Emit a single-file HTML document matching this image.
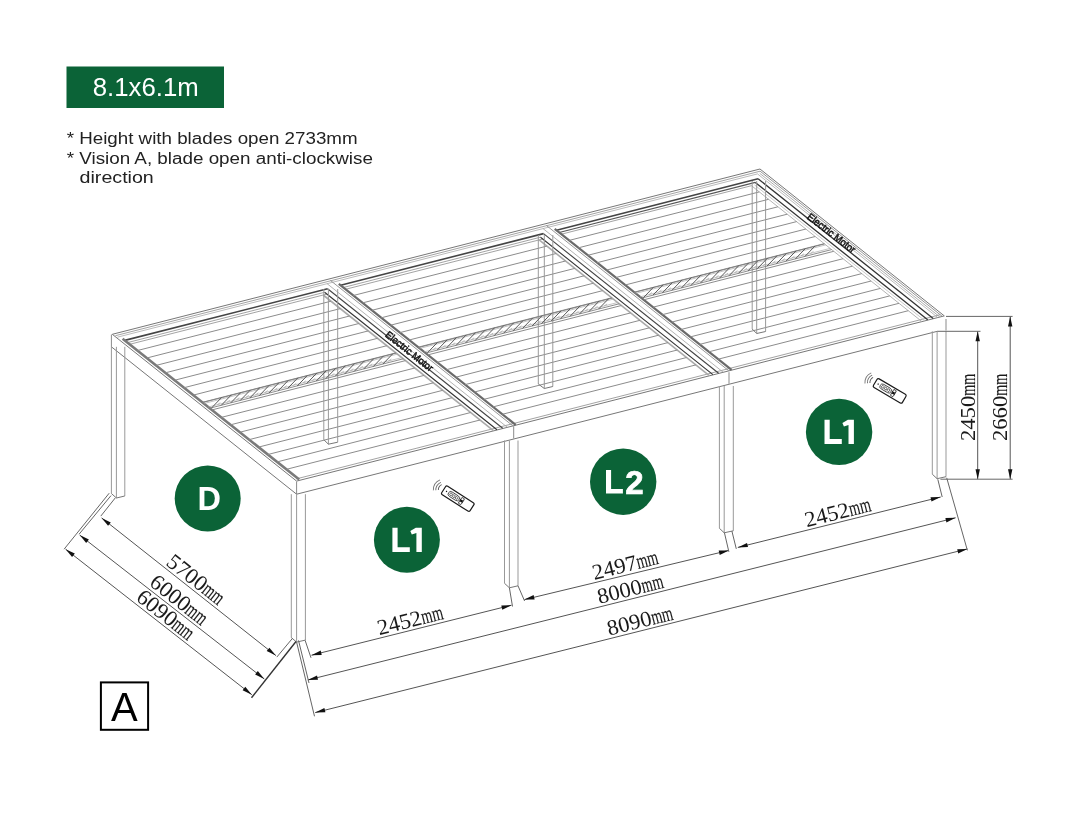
<!DOCTYPE html>
<html><head><meta charset="utf-8"><style>
html,body{margin:0;padding:0;background:#fff;}
svg{display:block;will-change:transform;}
</style></head><body>
<svg width="1080" height="831" viewBox="0 0 1080 831">
<rect width="1080" height="831" fill="#fff"/>
<g stroke-linecap="butt">
<line x1="112.3" y1="334.3" x2="760.0" y2="169.0" stroke="#777" stroke-width="1.0"/>
<line x1="115.4" y1="335.7" x2="760.1" y2="171.2" stroke="#999" stroke-width="0.9"/>
<line x1="296.6" y1="481.1" x2="944.3" y2="315.9" stroke="#777" stroke-width="1.0"/>
<line x1="296.3" y1="478.9" x2="940.2" y2="314.7" stroke="#999" stroke-width="0.9"/>
<line x1="112.3" y1="334.3" x2="296.6" y2="481.1" stroke="#777" stroke-width="1.0"/>
<line x1="760.0" y1="169.0" x2="944.3" y2="315.9" stroke="#777" stroke-width="1.0"/>
<line x1="111.4" y1="334.5" x2="111.4" y2="346.8" stroke="#8a8a8a" stroke-width="1"/>
<line x1="296.6" y1="481.6" x2="296.6" y2="494.2" stroke="#8a8a8a" stroke-width="1"/>
<line x1="946.0" y1="319.0" x2="946.0" y2="330.5" stroke="#8a8a8a" stroke-width="1"/>
<line x1="111.4" y1="346.8" x2="296.6" y2="494.2" stroke="#777" stroke-width="1"/>
<line x1="296.6" y1="494.2" x2="937.3" y2="331.3" stroke="#777" stroke-width="1"/>
<line x1="513.7" y1="426.2" x2="513.7" y2="438.5" stroke="#8a8a8a" stroke-width="1"/>
<line x1="729.0" y1="372.2" x2="729.0" y2="383.8" stroke="#8a8a8a" stroke-width="1"/>
<line x1="124.8" y1="340.4" x2="327.6" y2="288.7" stroke="#444" stroke-width="1.6"/>
<line x1="127.5" y1="342.6" x2="324.6" y2="292.3" stroke="#999" stroke-width="0.9"/>
<line x1="129.7" y1="344.3" x2="326.8" y2="294.1" stroke="#999" stroke-width="0.9"/>
<line x1="340.6" y1="285.3" x2="543.5" y2="233.6" stroke="#444" stroke-width="1.6"/>
<line x1="343.3" y1="287.5" x2="540.5" y2="237.2" stroke="#999" stroke-width="0.9"/>
<line x1="345.5" y1="289.3" x2="542.7" y2="239.0" stroke="#999" stroke-width="0.9"/>
<line x1="556.5" y1="230.3" x2="758.1" y2="178.8" stroke="#444" stroke-width="1.6"/>
<line x1="559.2" y1="232.5" x2="755.3" y2="182.4" stroke="#555" stroke-width="1.1"/>
<line x1="561.4" y1="234.2" x2="751.5" y2="185.7" stroke="#999" stroke-width="0.9"/>
<line x1="117.3" y1="337.2" x2="757.5" y2="173.9" stroke="#aaa" stroke-width="0.8"/>
<line x1="122.6" y1="338.7" x2="299.2" y2="479.5" stroke="#7a7a7a" stroke-width="2.6"/>
<line x1="323.2" y1="295.0" x2="493.4" y2="430.6" stroke="#aaa" stroke-width="1.6"/>
<line x1="324.6" y1="292.3" x2="497.0" y2="429.7" stroke="#333" stroke-width="1.1"/>
<line x1="327.6" y1="288.7" x2="502.7" y2="428.3" stroke="#444" stroke-width="1.1"/>
<line x1="326.9" y1="283.5" x2="507.1" y2="427.1" stroke="#aaa" stroke-width="0.9"/>
<line x1="330.4" y1="280.4" x2="512.7" y2="425.7" stroke="#8a8a8a" stroke-width="0.9"/>
<line x1="338.8" y1="283.9" x2="515.7" y2="424.9" stroke="#6a6a6a" stroke-width="2.2"/>
<line x1="539.1" y1="239.9" x2="709.3" y2="375.6" stroke="#aaa" stroke-width="1.6"/>
<line x1="540.5" y1="237.2" x2="712.9" y2="374.6" stroke="#333" stroke-width="1.1"/>
<line x1="543.5" y1="233.6" x2="718.6" y2="373.2" stroke="#444" stroke-width="1.1"/>
<line x1="542.8" y1="228.4" x2="723.0" y2="372.1" stroke="#aaa" stroke-width="0.9"/>
<line x1="546.3" y1="225.4" x2="728.6" y2="370.6" stroke="#8a8a8a" stroke-width="0.9"/>
<line x1="554.7" y1="228.8" x2="731.6" y2="369.9" stroke="#6a6a6a" stroke-width="2.2"/>
<line x1="751.5" y1="185.7" x2="921.7" y2="321.4" stroke="#aaa" stroke-width="0.9"/>
<line x1="754.5" y1="184.9" x2="924.7" y2="320.6" stroke="#bbb" stroke-width="0.8"/>
<line x1="755.3" y1="182.4" x2="927.7" y2="319.8" stroke="#333" stroke-width="1.3"/>
<line x1="758.1" y1="178.8" x2="933.2" y2="318.4" stroke="#333" stroke-width="1.3"/>
<line x1="757.5" y1="173.9" x2="937.5" y2="317.3" stroke="#aaa" stroke-width="0.8"/>
<line x1="759.7" y1="173.3" x2="939.7" y2="316.8" stroke="#999" stroke-width="0.8"/>
<line x1="760.1" y1="171.2" x2="942.0" y2="316.2" stroke="#8a8a8a" stroke-width="0.9"/>
<line x1="137.5" y1="350.5" x2="331.0" y2="301.2" stroke="#8c8c8c" stroke-width="1.0"/>
<line x1="146.8" y1="358.0" x2="340.3" y2="308.6" stroke="#8c8c8c" stroke-width="1.0"/>
<line x1="156.1" y1="365.4" x2="349.6" y2="316.0" stroke="#8c8c8c" stroke-width="1.0"/>
<line x1="165.4" y1="372.8" x2="358.9" y2="323.5" stroke="#8c8c8c" stroke-width="1.0"/>
<line x1="174.8" y1="380.2" x2="368.3" y2="330.9" stroke="#8c8c8c" stroke-width="1.0"/>
<line x1="184.1" y1="387.7" x2="377.6" y2="338.3" stroke="#8c8c8c" stroke-width="1.0"/>
<line x1="193.4" y1="395.1" x2="386.9" y2="345.7" stroke="#8c8c8c" stroke-width="1.0"/>
<line x1="202.7" y1="402.5" x2="396.2" y2="353.1" stroke="#8c8c8c" stroke-width="1.0"/>
<line x1="212.0" y1="409.9" x2="405.5" y2="360.6" stroke="#8c8c8c" stroke-width="1.0"/>
<line x1="221.3" y1="417.4" x2="414.8" y2="368.0" stroke="#8c8c8c" stroke-width="1.0"/>
<line x1="230.6" y1="424.8" x2="424.1" y2="375.4" stroke="#8c8c8c" stroke-width="1.0"/>
<line x1="240.0" y1="432.2" x2="433.5" y2="382.8" stroke="#8c8c8c" stroke-width="1.0"/>
<line x1="249.3" y1="439.6" x2="442.8" y2="390.3" stroke="#8c8c8c" stroke-width="1.0"/>
<line x1="258.6" y1="447.1" x2="452.1" y2="397.7" stroke="#8c8c8c" stroke-width="1.0"/>
<line x1="267.9" y1="454.5" x2="461.4" y2="405.1" stroke="#8c8c8c" stroke-width="1.0"/>
<line x1="277.2" y1="461.9" x2="470.7" y2="412.5" stroke="#8c8c8c" stroke-width="1.0"/>
<line x1="286.5" y1="469.3" x2="480.0" y2="420.0" stroke="#8c8c8c" stroke-width="1.0"/>
<line x1="353.3" y1="295.5" x2="546.9" y2="246.1" stroke="#8c8c8c" stroke-width="1.0"/>
<line x1="362.6" y1="302.9" x2="556.2" y2="253.5" stroke="#8c8c8c" stroke-width="1.0"/>
<line x1="371.9" y1="310.3" x2="565.5" y2="261.0" stroke="#8c8c8c" stroke-width="1.0"/>
<line x1="381.2" y1="317.8" x2="574.8" y2="268.4" stroke="#8c8c8c" stroke-width="1.0"/>
<line x1="390.6" y1="325.2" x2="584.2" y2="275.8" stroke="#8c8c8c" stroke-width="1.0"/>
<line x1="399.9" y1="332.6" x2="593.5" y2="283.2" stroke="#8c8c8c" stroke-width="1.0"/>
<line x1="409.2" y1="340.0" x2="602.8" y2="290.6" stroke="#8c8c8c" stroke-width="1.0"/>
<line x1="418.5" y1="347.5" x2="612.1" y2="298.1" stroke="#8c8c8c" stroke-width="1.0"/>
<line x1="427.8" y1="354.9" x2="621.4" y2="305.5" stroke="#8c8c8c" stroke-width="1.0"/>
<line x1="437.1" y1="362.3" x2="630.7" y2="312.9" stroke="#8c8c8c" stroke-width="1.0"/>
<line x1="446.4" y1="369.7" x2="640.0" y2="320.3" stroke="#8c8c8c" stroke-width="1.0"/>
<line x1="455.8" y1="377.2" x2="649.4" y2="327.8" stroke="#8c8c8c" stroke-width="1.0"/>
<line x1="465.1" y1="384.6" x2="658.7" y2="335.2" stroke="#8c8c8c" stroke-width="1.0"/>
<line x1="474.4" y1="392.0" x2="668.0" y2="342.6" stroke="#8c8c8c" stroke-width="1.0"/>
<line x1="483.7" y1="399.4" x2="677.3" y2="350.0" stroke="#8c8c8c" stroke-width="1.0"/>
<line x1="493.0" y1="406.9" x2="686.6" y2="357.5" stroke="#8c8c8c" stroke-width="1.0"/>
<line x1="502.3" y1="414.3" x2="695.9" y2="364.9" stroke="#8c8c8c" stroke-width="1.0"/>
<line x1="569.2" y1="240.4" x2="759.3" y2="191.9" stroke="#8c8c8c" stroke-width="1.0"/>
<line x1="578.5" y1="247.8" x2="768.6" y2="199.3" stroke="#8c8c8c" stroke-width="1.0"/>
<line x1="587.8" y1="255.3" x2="777.9" y2="206.8" stroke="#8c8c8c" stroke-width="1.0"/>
<line x1="597.1" y1="262.7" x2="787.2" y2="214.2" stroke="#8c8c8c" stroke-width="1.0"/>
<line x1="606.5" y1="270.1" x2="796.6" y2="221.6" stroke="#8c8c8c" stroke-width="1.0"/>
<line x1="615.8" y1="277.5" x2="805.9" y2="229.0" stroke="#8c8c8c" stroke-width="1.0"/>
<line x1="625.1" y1="285.0" x2="815.2" y2="236.5" stroke="#8c8c8c" stroke-width="1.0"/>
<line x1="634.4" y1="292.4" x2="824.5" y2="243.9" stroke="#8c8c8c" stroke-width="1.0"/>
<line x1="643.7" y1="299.8" x2="833.8" y2="251.3" stroke="#8c8c8c" stroke-width="1.0"/>
<line x1="653.0" y1="307.2" x2="843.1" y2="258.7" stroke="#8c8c8c" stroke-width="1.0"/>
<line x1="662.3" y1="314.7" x2="852.4" y2="266.2" stroke="#8c8c8c" stroke-width="1.0"/>
<line x1="671.7" y1="322.1" x2="861.8" y2="273.6" stroke="#8c8c8c" stroke-width="1.0"/>
<line x1="681.0" y1="329.5" x2="871.1" y2="281.0" stroke="#8c8c8c" stroke-width="1.0"/>
<line x1="690.3" y1="336.9" x2="880.4" y2="288.4" stroke="#8c8c8c" stroke-width="1.0"/>
<line x1="699.6" y1="344.4" x2="889.7" y2="295.9" stroke="#8c8c8c" stroke-width="1.0"/>
<line x1="708.9" y1="351.8" x2="899.0" y2="303.3" stroke="#8c8c8c" stroke-width="1.0"/>
<line x1="718.2" y1="359.2" x2="908.3" y2="310.7" stroke="#8c8c8c" stroke-width="1.0"/>
<line x1="111.4" y1="346.8" x2="111.4" y2="493.5" stroke="#999" stroke-width="1"/>
<line x1="116.4" y1="346.8" x2="116.4" y2="498.0" stroke="#999" stroke-width="1"/>
<line x1="124.8" y1="346.8" x2="124.8" y2="496.0" stroke="#999" stroke-width="1"/>
<line x1="111.4" y1="493.5" x2="116.4" y2="498.0" stroke="#777" stroke-width="1"/>
<line x1="116.4" y1="498.0" x2="124.8" y2="496.0" stroke="#777" stroke-width="1"/>
<line x1="291.3" y1="494.2" x2="291.3" y2="637.6" stroke="#999" stroke-width="1"/>
<line x1="296.6" y1="494.2" x2="296.6" y2="642.1" stroke="#999" stroke-width="1"/>
<line x1="305.4" y1="494.2" x2="305.4" y2="640.1" stroke="#999" stroke-width="1"/>
<line x1="291.3" y1="637.6" x2="296.6" y2="642.1" stroke="#777" stroke-width="1"/>
<line x1="296.6" y1="642.1" x2="305.4" y2="640.1" stroke="#777" stroke-width="1"/>
<line x1="504.5" y1="440.5" x2="504.5" y2="583.3" stroke="#999" stroke-width="1"/>
<line x1="509.4" y1="440.5" x2="509.4" y2="587.8" stroke="#999" stroke-width="1"/>
<line x1="518.0" y1="440.5" x2="518.0" y2="585.8" stroke="#999" stroke-width="1"/>
<line x1="504.5" y1="583.3" x2="509.4" y2="587.8" stroke="#777" stroke-width="1"/>
<line x1="509.4" y1="587.8" x2="518.0" y2="585.8" stroke="#777" stroke-width="1"/>
<line x1="719.4" y1="386.0" x2="719.4" y2="528.3" stroke="#999" stroke-width="1"/>
<line x1="724.2" y1="386.0" x2="724.2" y2="532.8" stroke="#999" stroke-width="1"/>
<line x1="733.3" y1="386.0" x2="733.3" y2="530.8" stroke="#999" stroke-width="1"/>
<line x1="719.4" y1="528.3" x2="724.2" y2="532.8" stroke="#777" stroke-width="1"/>
<line x1="724.2" y1="532.8" x2="733.3" y2="530.8" stroke="#777" stroke-width="1"/>
<line x1="932.3" y1="331.3" x2="932.3" y2="474.2" stroke="#999" stroke-width="1"/>
<line x1="937.1" y1="331.3" x2="937.1" y2="478.7" stroke="#999" stroke-width="1"/>
<line x1="946.0" y1="331.3" x2="946.0" y2="476.7" stroke="#999" stroke-width="1"/>
<line x1="932.3" y1="474.2" x2="937.1" y2="478.7" stroke="#777" stroke-width="1"/>
<line x1="937.1" y1="478.7" x2="946.0" y2="476.7" stroke="#777" stroke-width="1"/>
<line x1="323.8" y1="289.0" x2="323.8" y2="439.7" stroke="#999" stroke-width="1"/>
<line x1="328.4" y1="289.0" x2="328.4" y2="444.2" stroke="#999" stroke-width="1"/>
<line x1="337.7" y1="289.0" x2="337.7" y2="442.2" stroke="#999" stroke-width="1"/>
<line x1="323.8" y1="439.7" x2="328.4" y2="444.2" stroke="#777" stroke-width="1"/>
<line x1="328.4" y1="444.2" x2="337.7" y2="442.2" stroke="#777" stroke-width="1"/>
<line x1="538.3" y1="235.0" x2="538.3" y2="384.0" stroke="#999" stroke-width="1"/>
<line x1="544.3" y1="235.0" x2="544.3" y2="388.5" stroke="#999" stroke-width="1"/>
<line x1="552.8" y1="235.0" x2="552.8" y2="386.5" stroke="#999" stroke-width="1"/>
<line x1="538.3" y1="384.0" x2="544.3" y2="388.5" stroke="#777" stroke-width="1"/>
<line x1="544.3" y1="388.5" x2="552.8" y2="386.5" stroke="#777" stroke-width="1"/>
<line x1="752.2" y1="181.0" x2="752.2" y2="329.0" stroke="#999" stroke-width="1"/>
<line x1="756.7" y1="181.0" x2="756.7" y2="333.5" stroke="#999" stroke-width="1"/>
<line x1="765.6" y1="181.0" x2="765.6" y2="331.5" stroke="#999" stroke-width="1"/>
<line x1="752.2" y1="329.0" x2="756.7" y2="333.5" stroke="#777" stroke-width="1"/>
<line x1="756.7" y1="333.5" x2="765.6" y2="331.5" stroke="#777" stroke-width="1"/>
<line x1="202.4" y1="402.3" x2="395.9" y2="352.9" stroke="#808080" stroke-width="0.9"/>
<line x1="203.9" y1="403.5" x2="397.4" y2="354.1" stroke="#aaaaaa" stroke-width="0.7"/>
<line x1="209.8" y1="408.2" x2="403.3" y2="358.8" stroke="#808080" stroke-width="0.9"/>
<line x1="208.3" y1="407.0" x2="401.8" y2="357.6" stroke="#aaaaaa" stroke-width="0.7"/>
<line x1="211.8" y1="407.7" x2="221.8" y2="397.3" stroke="#5a5a5a" stroke-width="1.0"/>
<line x1="217.3" y1="404.7" x2="220.3" y2="402.7" stroke="#aaa" stroke-width="0.8"/>
<line x1="221.3" y1="405.3" x2="231.3" y2="394.9" stroke="#5a5a5a" stroke-width="1.0"/>
<line x1="226.8" y1="402.3" x2="229.8" y2="400.3" stroke="#aaa" stroke-width="0.8"/>
<line x1="230.8" y1="402.8" x2="240.8" y2="392.5" stroke="#5a5a5a" stroke-width="1.0"/>
<line x1="236.3" y1="399.8" x2="239.3" y2="397.8" stroke="#aaa" stroke-width="0.8"/>
<line x1="240.3" y1="400.4" x2="250.3" y2="390.1" stroke="#5a5a5a" stroke-width="1.0"/>
<line x1="245.8" y1="397.4" x2="248.8" y2="395.4" stroke="#aaa" stroke-width="0.8"/>
<line x1="249.8" y1="398.0" x2="259.8" y2="387.6" stroke="#5a5a5a" stroke-width="1.0"/>
<line x1="255.3" y1="395.0" x2="258.3" y2="393.0" stroke="#aaa" stroke-width="0.8"/>
<line x1="259.3" y1="395.6" x2="269.3" y2="385.2" stroke="#5a5a5a" stroke-width="1.0"/>
<line x1="264.8" y1="392.6" x2="267.8" y2="390.6" stroke="#aaa" stroke-width="0.8"/>
<line x1="268.8" y1="393.1" x2="278.8" y2="382.8" stroke="#5a5a5a" stroke-width="1.0"/>
<line x1="274.3" y1="390.1" x2="277.3" y2="388.1" stroke="#aaa" stroke-width="0.8"/>
<line x1="278.3" y1="390.7" x2="288.3" y2="380.4" stroke="#5a5a5a" stroke-width="1.0"/>
<line x1="283.8" y1="387.7" x2="286.8" y2="385.7" stroke="#aaa" stroke-width="0.8"/>
<line x1="287.8" y1="388.3" x2="297.8" y2="377.9" stroke="#5a5a5a" stroke-width="1.0"/>
<line x1="293.3" y1="385.3" x2="296.3" y2="383.3" stroke="#aaa" stroke-width="0.8"/>
<line x1="297.3" y1="385.9" x2="307.3" y2="375.5" stroke="#5a5a5a" stroke-width="1.0"/>
<line x1="302.8" y1="382.9" x2="305.8" y2="380.9" stroke="#aaa" stroke-width="0.8"/>
<line x1="306.8" y1="383.4" x2="316.8" y2="373.1" stroke="#5a5a5a" stroke-width="1.0"/>
<line x1="312.3" y1="380.4" x2="315.3" y2="378.4" stroke="#aaa" stroke-width="0.8"/>
<line x1="316.3" y1="381.0" x2="326.3" y2="370.7" stroke="#5a5a5a" stroke-width="1.0"/>
<line x1="321.8" y1="378.0" x2="324.8" y2="376.0" stroke="#aaa" stroke-width="0.8"/>
<line x1="325.8" y1="378.6" x2="335.8" y2="368.3" stroke="#5a5a5a" stroke-width="1.0"/>
<line x1="331.3" y1="375.6" x2="334.3" y2="373.6" stroke="#aaa" stroke-width="0.8"/>
<line x1="335.3" y1="376.2" x2="345.3" y2="365.8" stroke="#5a5a5a" stroke-width="1.0"/>
<line x1="340.8" y1="373.2" x2="343.8" y2="371.2" stroke="#aaa" stroke-width="0.8"/>
<line x1="344.8" y1="373.8" x2="354.8" y2="363.4" stroke="#5a5a5a" stroke-width="1.0"/>
<line x1="350.3" y1="370.8" x2="353.3" y2="368.8" stroke="#aaa" stroke-width="0.8"/>
<line x1="354.3" y1="371.3" x2="364.3" y2="361.0" stroke="#5a5a5a" stroke-width="1.0"/>
<line x1="359.8" y1="368.3" x2="362.8" y2="366.3" stroke="#aaa" stroke-width="0.8"/>
<line x1="363.8" y1="368.9" x2="373.8" y2="358.6" stroke="#5a5a5a" stroke-width="1.0"/>
<line x1="369.3" y1="365.9" x2="372.3" y2="363.9" stroke="#aaa" stroke-width="0.8"/>
<line x1="373.3" y1="366.5" x2="383.3" y2="356.1" stroke="#5a5a5a" stroke-width="1.0"/>
<line x1="378.8" y1="363.5" x2="381.8" y2="361.5" stroke="#aaa" stroke-width="0.8"/>
<line x1="382.8" y1="364.1" x2="392.8" y2="353.7" stroke="#5a5a5a" stroke-width="1.0"/>
<line x1="388.3" y1="361.1" x2="391.3" y2="359.1" stroke="#aaa" stroke-width="0.8"/>
<line x1="418.2" y1="347.2" x2="611.8" y2="297.8" stroke="#808080" stroke-width="0.9"/>
<line x1="419.7" y1="348.4" x2="613.3" y2="299.1" stroke="#aaaaaa" stroke-width="0.7"/>
<line x1="425.6" y1="353.1" x2="619.2" y2="303.8" stroke="#808080" stroke-width="0.9"/>
<line x1="424.1" y1="351.9" x2="617.7" y2="302.5" stroke="#aaaaaa" stroke-width="0.7"/>
<line x1="427.6" y1="352.6" x2="437.6" y2="342.3" stroke="#5a5a5a" stroke-width="1.0"/>
<line x1="433.1" y1="349.6" x2="436.1" y2="347.6" stroke="#aaa" stroke-width="0.8"/>
<line x1="437.1" y1="350.2" x2="447.1" y2="339.9" stroke="#5a5a5a" stroke-width="1.0"/>
<line x1="442.6" y1="347.2" x2="445.6" y2="345.2" stroke="#aaa" stroke-width="0.8"/>
<line x1="446.6" y1="347.8" x2="456.6" y2="337.4" stroke="#5a5a5a" stroke-width="1.0"/>
<line x1="452.1" y1="344.8" x2="455.1" y2="342.8" stroke="#aaa" stroke-width="0.8"/>
<line x1="456.1" y1="345.4" x2="466.1" y2="335.0" stroke="#5a5a5a" stroke-width="1.0"/>
<line x1="461.6" y1="342.4" x2="464.6" y2="340.4" stroke="#aaa" stroke-width="0.8"/>
<line x1="465.6" y1="342.9" x2="475.6" y2="332.6" stroke="#5a5a5a" stroke-width="1.0"/>
<line x1="471.1" y1="339.9" x2="474.1" y2="337.9" stroke="#aaa" stroke-width="0.8"/>
<line x1="475.1" y1="340.5" x2="485.1" y2="330.2" stroke="#5a5a5a" stroke-width="1.0"/>
<line x1="480.6" y1="337.5" x2="483.6" y2="335.5" stroke="#aaa" stroke-width="0.8"/>
<line x1="484.6" y1="338.1" x2="494.6" y2="327.7" stroke="#5a5a5a" stroke-width="1.0"/>
<line x1="490.1" y1="335.1" x2="493.1" y2="333.1" stroke="#aaa" stroke-width="0.8"/>
<line x1="494.1" y1="335.7" x2="504.1" y2="325.3" stroke="#5a5a5a" stroke-width="1.0"/>
<line x1="499.6" y1="332.7" x2="502.6" y2="330.7" stroke="#aaa" stroke-width="0.8"/>
<line x1="503.6" y1="333.2" x2="513.6" y2="322.9" stroke="#5a5a5a" stroke-width="1.0"/>
<line x1="509.1" y1="330.2" x2="512.1" y2="328.2" stroke="#aaa" stroke-width="0.8"/>
<line x1="513.1" y1="330.8" x2="523.1" y2="320.5" stroke="#5a5a5a" stroke-width="1.0"/>
<line x1="518.6" y1="327.8" x2="521.6" y2="325.8" stroke="#aaa" stroke-width="0.8"/>
<line x1="522.6" y1="328.4" x2="532.6" y2="318.0" stroke="#5a5a5a" stroke-width="1.0"/>
<line x1="528.1" y1="325.4" x2="531.1" y2="323.4" stroke="#aaa" stroke-width="0.8"/>
<line x1="532.1" y1="326.0" x2="542.1" y2="315.6" stroke="#5a5a5a" stroke-width="1.0"/>
<line x1="537.6" y1="323.0" x2="540.6" y2="321.0" stroke="#aaa" stroke-width="0.8"/>
<line x1="541.6" y1="323.6" x2="551.6" y2="313.2" stroke="#5a5a5a" stroke-width="1.0"/>
<line x1="547.1" y1="320.5" x2="550.1" y2="318.5" stroke="#aaa" stroke-width="0.8"/>
<line x1="551.1" y1="321.1" x2="561.1" y2="310.8" stroke="#5a5a5a" stroke-width="1.0"/>
<line x1="556.6" y1="318.1" x2="559.6" y2="316.1" stroke="#aaa" stroke-width="0.8"/>
<line x1="560.6" y1="318.7" x2="570.6" y2="308.4" stroke="#5a5a5a" stroke-width="1.0"/>
<line x1="566.1" y1="315.7" x2="569.1" y2="313.7" stroke="#aaa" stroke-width="0.8"/>
<line x1="570.1" y1="316.3" x2="580.1" y2="305.9" stroke="#5a5a5a" stroke-width="1.0"/>
<line x1="575.6" y1="313.3" x2="578.6" y2="311.3" stroke="#aaa" stroke-width="0.8"/>
<line x1="579.6" y1="313.9" x2="589.6" y2="303.5" stroke="#5a5a5a" stroke-width="1.0"/>
<line x1="585.1" y1="310.9" x2="588.1" y2="308.9" stroke="#aaa" stroke-width="0.8"/>
<line x1="589.1" y1="311.4" x2="599.1" y2="301.1" stroke="#5a5a5a" stroke-width="1.0"/>
<line x1="594.6" y1="308.4" x2="597.6" y2="306.4" stroke="#aaa" stroke-width="0.8"/>
<line x1="598.6" y1="309.0" x2="608.6" y2="298.7" stroke="#5a5a5a" stroke-width="1.0"/>
<line x1="604.1" y1="306.0" x2="607.1" y2="304.0" stroke="#aaa" stroke-width="0.8"/>
<line x1="634.1" y1="292.2" x2="824.2" y2="243.7" stroke="#808080" stroke-width="0.9"/>
<line x1="635.6" y1="293.4" x2="825.7" y2="244.9" stroke="#aaaaaa" stroke-width="0.7"/>
<line x1="641.5" y1="298.1" x2="831.6" y2="249.6" stroke="#808080" stroke-width="0.9"/>
<line x1="640.0" y1="296.9" x2="830.1" y2="248.4" stroke="#aaaaaa" stroke-width="0.7"/>
<line x1="643.5" y1="297.6" x2="653.5" y2="287.2" stroke="#5a5a5a" stroke-width="1.0"/>
<line x1="649.0" y1="294.6" x2="652.0" y2="292.6" stroke="#aaa" stroke-width="0.8"/>
<line x1="653.0" y1="295.1" x2="663.0" y2="284.8" stroke="#5a5a5a" stroke-width="1.0"/>
<line x1="658.5" y1="292.1" x2="661.5" y2="290.1" stroke="#aaa" stroke-width="0.8"/>
<line x1="662.5" y1="292.7" x2="672.5" y2="282.4" stroke="#5a5a5a" stroke-width="1.0"/>
<line x1="668.0" y1="289.7" x2="671.0" y2="287.7" stroke="#aaa" stroke-width="0.8"/>
<line x1="672.0" y1="290.3" x2="682.0" y2="279.9" stroke="#5a5a5a" stroke-width="1.0"/>
<line x1="677.5" y1="287.3" x2="680.5" y2="285.3" stroke="#aaa" stroke-width="0.8"/>
<line x1="681.5" y1="287.9" x2="691.5" y2="277.5" stroke="#5a5a5a" stroke-width="1.0"/>
<line x1="687.0" y1="284.9" x2="690.0" y2="282.9" stroke="#aaa" stroke-width="0.8"/>
<line x1="691.0" y1="285.4" x2="701.0" y2="275.1" stroke="#5a5a5a" stroke-width="1.0"/>
<line x1="696.5" y1="282.4" x2="699.5" y2="280.4" stroke="#aaa" stroke-width="0.8"/>
<line x1="700.5" y1="283.0" x2="710.5" y2="272.7" stroke="#5a5a5a" stroke-width="1.0"/>
<line x1="706.0" y1="280.0" x2="709.0" y2="278.0" stroke="#aaa" stroke-width="0.8"/>
<line x1="710.0" y1="280.6" x2="720.0" y2="270.2" stroke="#5a5a5a" stroke-width="1.0"/>
<line x1="715.5" y1="277.6" x2="718.5" y2="275.6" stroke="#aaa" stroke-width="0.8"/>
<line x1="719.5" y1="278.2" x2="729.5" y2="267.8" stroke="#5a5a5a" stroke-width="1.0"/>
<line x1="725.0" y1="275.2" x2="728.0" y2="273.2" stroke="#aaa" stroke-width="0.8"/>
<line x1="729.0" y1="275.7" x2="739.0" y2="265.4" stroke="#5a5a5a" stroke-width="1.0"/>
<line x1="734.5" y1="272.7" x2="737.5" y2="270.7" stroke="#aaa" stroke-width="0.8"/>
<line x1="738.5" y1="273.3" x2="748.5" y2="263.0" stroke="#5a5a5a" stroke-width="1.0"/>
<line x1="744.0" y1="270.3" x2="747.0" y2="268.3" stroke="#aaa" stroke-width="0.8"/>
<line x1="748.0" y1="270.9" x2="758.0" y2="260.5" stroke="#5a5a5a" stroke-width="1.0"/>
<line x1="753.5" y1="267.9" x2="756.5" y2="265.9" stroke="#aaa" stroke-width="0.8"/>
<line x1="757.5" y1="268.5" x2="767.5" y2="258.1" stroke="#5a5a5a" stroke-width="1.0"/>
<line x1="763.0" y1="265.5" x2="766.0" y2="263.5" stroke="#aaa" stroke-width="0.8"/>
<line x1="767.0" y1="266.1" x2="777.0" y2="255.7" stroke="#5a5a5a" stroke-width="1.0"/>
<line x1="772.5" y1="263.0" x2="775.5" y2="261.0" stroke="#aaa" stroke-width="0.8"/>
<line x1="776.5" y1="263.6" x2="786.5" y2="253.3" stroke="#5a5a5a" stroke-width="1.0"/>
<line x1="782.0" y1="260.6" x2="785.0" y2="258.6" stroke="#aaa" stroke-width="0.8"/>
<line x1="786.0" y1="261.2" x2="796.0" y2="250.9" stroke="#5a5a5a" stroke-width="1.0"/>
<line x1="791.5" y1="258.2" x2="794.5" y2="256.2" stroke="#aaa" stroke-width="0.8"/>
<line x1="795.5" y1="258.8" x2="805.5" y2="248.4" stroke="#5a5a5a" stroke-width="1.0"/>
<line x1="801.0" y1="255.8" x2="804.0" y2="253.8" stroke="#aaa" stroke-width="0.8"/>
<line x1="805.0" y1="256.4" x2="815.0" y2="246.0" stroke="#5a5a5a" stroke-width="1.0"/>
<line x1="810.5" y1="253.4" x2="813.5" y2="251.4" stroke="#aaa" stroke-width="0.8"/>
<line x1="311.5" y1="655.2" x2="511.5" y2="605.2" stroke="#555" stroke-width="1.0"/>
<polygon points="311.5,655.2 320.7,650.6 321.7,654.9" fill="#111"/>
<polygon points="511.5,605.2 502.3,609.8 501.3,605.5" fill="#111"/>
<line x1="524.4" y1="599.6" x2="728.9" y2="550.4" stroke="#555" stroke-width="1.0"/>
<polygon points="524.4,599.6 533.6,595.1 534.6,599.4" fill="#111"/>
<polygon points="728.9,550.4 719.7,554.9 718.7,550.6" fill="#111"/>
<line x1="737.8" y1="547.4" x2="940.7" y2="497.0" stroke="#555" stroke-width="1.0"/>
<polygon points="737.8,547.4 747.0,542.9 748.0,547.1" fill="#111"/>
<polygon points="940.7,497.0 931.5,501.5 930.5,497.3" fill="#111"/>
<line x1="307.8" y1="680.0" x2="955.6" y2="517.8" stroke="#555" stroke-width="1.0"/>
<polygon points="307.8,680.0 317.0,675.4 318.0,679.7" fill="#111"/>
<polygon points="955.6,517.8 946.4,522.4 945.4,518.1" fill="#111"/>
<line x1="315.2" y1="712.6" x2="967.4" y2="548.9" stroke="#555" stroke-width="1.0"/>
<polygon points="315.2,712.6 324.4,708.0 325.4,712.3" fill="#111"/>
<polygon points="967.4,548.9 958.2,553.5 957.2,549.2" fill="#111"/>
<line x1="101.6" y1="517.9" x2="275.9" y2="655.6" stroke="#555" stroke-width="1.0"/>
<polygon points="101.6,517.9 110.8,522.4 108.1,525.8" fill="#111"/>
<polygon points="275.9,655.6 266.7,651.1 269.4,647.7" fill="#111"/>
<line x1="79.7" y1="535.1" x2="264.3" y2="679.0" stroke="#555" stroke-width="1.0"/>
<polygon points="79.7,535.1 88.9,539.5 86.2,543.0" fill="#111"/>
<polygon points="264.3,679.0 255.1,674.6 257.8,671.1" fill="#111"/>
<line x1="65.6" y1="549.2" x2="251.8" y2="694.7" stroke="#555" stroke-width="1.0"/>
<polygon points="65.6,549.2 74.8,553.6 72.1,557.1" fill="#111"/>
<polygon points="251.8,694.7 242.6,690.3 245.3,686.8" fill="#111"/>
<line x1="977.7" y1="331.3" x2="977.7" y2="479.2" stroke="#555" stroke-width="1.0"/>
<polygon points="977.7,331.3 979.9,341.3 975.5,341.3" fill="#111"/>
<polygon points="977.7,479.2 975.5,469.2 979.9,469.2" fill="#111"/>
<line x1="1010.2" y1="316.4" x2="1010.2" y2="479.2" stroke="#555" stroke-width="1.0"/>
<polygon points="1010.2,316.4 1012.4,326.4 1008.0,326.4" fill="#111"/>
<polygon points="1010.2,479.2 1008.0,469.2 1012.4,469.2" fill="#111"/>
<line x1="946.0" y1="316.4" x2="1012.6" y2="316.4" stroke="#666" stroke-width="1"/>
<line x1="937.3" y1="331.3" x2="980.5" y2="331.3" stroke="#666" stroke-width="1"/>
<line x1="940.4" y1="479.2" x2="1012.6" y2="479.2" stroke="#666" stroke-width="1"/>
<line x1="109.2" y1="493.2" x2="64.1" y2="549.2" stroke="#666" stroke-width="1"/>
<line x1="111.0" y1="495.6" x2="79.1" y2="534.2" stroke="#666" stroke-width="1"/>
<line x1="115.2" y1="498.0" x2="100.8" y2="516.1" stroke="#666" stroke-width="1"/>
<line x1="296.0" y1="641.5" x2="251.5" y2="697.8" stroke="#333" stroke-width="1.4"/>
<line x1="292.5" y1="638.3" x2="276.8" y2="657.1" stroke="#666" stroke-width="1"/>
<line x1="296.6" y1="642.1" x2="314.5" y2="716.3" stroke="#666" stroke-width="1"/>
<line x1="298.5" y1="640.4" x2="309.0" y2="683.0" stroke="#666" stroke-width="1"/>
<line x1="305.1" y1="640.3" x2="311.0" y2="657.8" stroke="#666" stroke-width="1"/>
<line x1="509.4" y1="587.8" x2="512.5" y2="606.5" stroke="#666" stroke-width="1"/>
<line x1="518.0" y1="585.8" x2="524.6" y2="601.0" stroke="#666" stroke-width="1"/>
<line x1="724.4" y1="532.6" x2="728.9" y2="551.9" stroke="#666" stroke-width="1"/>
<line x1="731.9" y1="531.1" x2="736.3" y2="548.9" stroke="#666" stroke-width="1"/>
<line x1="937.8" y1="479.3" x2="942.2" y2="497.0" stroke="#666" stroke-width="1"/>
<line x1="946.7" y1="477.8" x2="967.4" y2="550.4" stroke="#666" stroke-width="1"/>
<g transform="translate(411.5,630.2) rotate(-14.04)"><text x="-32.6" y="-3.0" font-family="Liberation Serif, serif" font-size="22" fill="#1a1a1a" textLength="45.3" lengthAdjust="spacingAndGlyphs">2452</text><text transform="translate(12.7,-3.0) scale(0.64,1)" x="0" y="0" font-family="Liberation Serif, serif" font-size="22" fill="#1a1a1a" stroke="#1a1a1a" stroke-width="0.15">mm</text></g>
<g transform="translate(626.6,575.0) rotate(-14.04)"><text x="-32.6" y="-3.0" font-family="Liberation Serif, serif" font-size="22" fill="#1a1a1a" textLength="45.3" lengthAdjust="spacingAndGlyphs">2497</text><text transform="translate(12.7,-3.0) scale(0.64,1)" x="0" y="0" font-family="Liberation Serif, serif" font-size="22" fill="#1a1a1a" stroke="#1a1a1a" stroke-width="0.15">mm</text></g>
<g transform="translate(839.2,522.2) rotate(-14.04)"><text x="-32.6" y="-3.0" font-family="Liberation Serif, serif" font-size="22" fill="#1a1a1a" textLength="45.3" lengthAdjust="spacingAndGlyphs">2452</text><text transform="translate(12.7,-3.0) scale(0.64,1)" x="0" y="0" font-family="Liberation Serif, serif" font-size="22" fill="#1a1a1a" stroke="#1a1a1a" stroke-width="0.15">mm</text></g>
<g transform="translate(631.7,598.9) rotate(-14.04)"><text x="-32.6" y="-3.0" font-family="Liberation Serif, serif" font-size="22" fill="#1a1a1a" textLength="45.3" lengthAdjust="spacingAndGlyphs">8000</text><text transform="translate(12.7,-3.0) scale(0.64,1)" x="0" y="0" font-family="Liberation Serif, serif" font-size="22" fill="#1a1a1a" stroke="#1a1a1a" stroke-width="0.15">mm</text></g>
<g transform="translate(641.3,630.8) rotate(-14.04)"><text x="-32.6" y="-3.0" font-family="Liberation Serif, serif" font-size="22" fill="#1a1a1a" textLength="45.3" lengthAdjust="spacingAndGlyphs">8090</text><text transform="translate(12.7,-3.0) scale(0.64,1)" x="0" y="0" font-family="Liberation Serif, serif" font-size="22" fill="#1a1a1a" stroke="#1a1a1a" stroke-width="0.15">mm</text></g>
<g transform="translate(188.8,586.8) rotate(38.31)"><text x="-32.6" y="-3.0" font-family="Liberation Serif, serif" font-size="22" fill="#1a1a1a" textLength="45.3" lengthAdjust="spacingAndGlyphs">5700</text><text transform="translate(12.7,-3.0) scale(0.64,1)" x="0" y="0" font-family="Liberation Serif, serif" font-size="22" fill="#1a1a1a" stroke="#1a1a1a" stroke-width="0.15">mm</text></g>
<g transform="translate(172.0,607.0) rotate(38.31)"><text x="-32.6" y="-3.0" font-family="Liberation Serif, serif" font-size="22" fill="#1a1a1a" textLength="45.3" lengthAdjust="spacingAndGlyphs">6000</text><text transform="translate(12.7,-3.0) scale(0.64,1)" x="0" y="0" font-family="Liberation Serif, serif" font-size="22" fill="#1a1a1a" stroke="#1a1a1a" stroke-width="0.15">mm</text></g>
<g transform="translate(158.7,622.0) rotate(38.31)"><text x="-32.6" y="-3.0" font-family="Liberation Serif, serif" font-size="22" fill="#1a1a1a" textLength="45.3" lengthAdjust="spacingAndGlyphs">6090</text><text transform="translate(12.7,-3.0) scale(0.64,1)" x="0" y="0" font-family="Liberation Serif, serif" font-size="22" fill="#1a1a1a" stroke="#1a1a1a" stroke-width="0.15">mm</text></g>
<g transform="translate(977.7,406.5) rotate(-90.00)"><text x="-34.6" y="-3.0" font-family="Liberation Serif, serif" font-size="22" fill="#1a1a1a" textLength="45.3" lengthAdjust="spacingAndGlyphs">2450</text><text transform="translate(10.7,-3.0) scale(0.64,1)" x="0" y="0" font-family="Liberation Serif, serif" font-size="22" fill="#1a1a1a" stroke="#1a1a1a" stroke-width="0.15">mm</text></g>
<g transform="translate(1010.2,406.5) rotate(-90.00)"><text x="-34.6" y="-3.0" font-family="Liberation Serif, serif" font-size="22" fill="#1a1a1a" textLength="45.3" lengthAdjust="spacingAndGlyphs">2660</text><text transform="translate(10.7,-3.0) scale(0.64,1)" x="0" y="0" font-family="Liberation Serif, serif" font-size="22" fill="#1a1a1a" stroke="#1a1a1a" stroke-width="0.15">mm</text></g>
<text transform="translate(409.5,351.2) rotate(38.40)" x="0" y="3.6" font-family="Liberation Sans, sans-serif" font-size="10.2" fill="#111" stroke="#111" stroke-width="0.45" text-anchor="middle" textLength="58" lengthAdjust="spacingAndGlyphs">Electric Motor</text>
<text transform="translate(831.5,233.0) rotate(37.50)" x="0" y="3.6" font-family="Liberation Sans, sans-serif" font-size="10.2" fill="#111" stroke="#111" stroke-width="0.45" text-anchor="middle" textLength="58" lengthAdjust="spacingAndGlyphs">Electric Motor</text>
<g transform="translate(457.8,498.7) rotate(32.7)" fill="none" stroke="#1a1a1a" stroke-width="1.2"><rect x="-16.8" y="-5" width="33.6" height="10" rx="1.6"/><rect x="-11" y="-2.6" width="12.6" height="5.2" rx="2.6" stroke-width="0.8" stroke="#333"/><circle cx="-8" cy="0" r="1.3" stroke-width="0.6"/><circle cx="-4.7" cy="0" r="1.3" stroke-width="0.6"/><circle cx="-1.4" cy="0" r="1.3" stroke-width="0.6"/><rect x="2.7" y="-3.6" width="3.2" height="7.2" rx="1.4" stroke-width="0.8"/><rect x="2.9" y="-1.2" width="2.8" height="2.4" fill="#111" stroke="none"/><circle cx="-13.4" cy="0" r="0.7" fill="#111" stroke="none"/><path d="M-21.12,-3.14 A6,6 0 0,0 -21.12,3.14" stroke="#555" stroke-width="0.9"/><path d="M-23.11,-4.66 A8.5,8.5 0 0,0 -23.11,4.66" stroke="#666" stroke-width="0.9"/><path d="M-25.08,-6.21 A11,11 0 0,0 -25.08,6.21" stroke="#777" stroke-width="0.9"/></g>
<g transform="translate(889.7,390.9) rotate(30.5)" fill="none" stroke="#1a1a1a" stroke-width="1.2"><rect x="-16.8" y="-5" width="33.6" height="10" rx="1.6"/><rect x="-11" y="-2.6" width="12.6" height="5.2" rx="2.6" stroke-width="0.8" stroke="#333"/><circle cx="-8" cy="0" r="1.3" stroke-width="0.6"/><circle cx="-4.7" cy="0" r="1.3" stroke-width="0.6"/><circle cx="-1.4" cy="0" r="1.3" stroke-width="0.6"/><rect x="2.7" y="-3.6" width="3.2" height="7.2" rx="1.4" stroke-width="0.8"/><rect x="2.9" y="-1.2" width="2.8" height="2.4" fill="#111" stroke="none"/><circle cx="-13.4" cy="0" r="0.7" fill="#111" stroke="none"/><path d="M-21.12,-3.14 A6,6 0 0,0 -21.12,3.14" stroke="#555" stroke-width="0.9"/><path d="M-23.11,-4.66 A8.5,8.5 0 0,0 -23.11,4.66" stroke="#666" stroke-width="0.9"/><path d="M-25.08,-6.21 A11,11 0 0,0 -25.08,6.21" stroke="#777" stroke-width="0.9"/></g>
</g>
<rect x="66.5" y="66.5" width="157.5" height="41.5" fill="#0b6337"/>
<text x="145.7" y="96.3" font-family="Liberation Sans, sans-serif" font-size="26" fill="#fff" text-anchor="middle" textLength="106" lengthAdjust="spacingAndGlyphs">8.1x6.1m</text>
<g font-family="Liberation Sans, sans-serif" font-size="16" fill="#222">
<text x="66.7" y="143.8" textLength="290.9" lengthAdjust="spacingAndGlyphs">* Height with blades open 2733mm</text>
<text x="66.7" y="163.7" textLength="306.2" lengthAdjust="spacingAndGlyphs">* Vision A, blade open anti-clockwise</text>
<text x="79.6" y="183.2" textLength="74.2" lengthAdjust="spacingAndGlyphs">direction</text>
</g>
<g font-family="Liberation Sans, sans-serif" font-weight="bold" fill="#fff" text-anchor="middle">
<circle cx="207.7" cy="498.4" r="33" fill="#0b6337"/>
<text x="209.2" y="510" font-size="32.5">D</text>
<circle cx="406.9" cy="539.8" r="33" fill="#0b6337"/>
<polygon points="392.4,527.8 397.6,527.8 397.6,547.2 409.8,547.2 409.8,552.0 392.4,552.0" fill="#fff"/><polygon points="410.3,531.1 415.8,527.8 421.8,527.8 421.8,552.0 416.4,552.0 416.4,533.0 411.8,534.4" fill="#fff"/>
<circle cx="623.2" cy="481.7" r="33.2" fill="#0b6337"/>
<polygon points="606.0,470.1 611.1,470.1 611.1,488.9 622.9,488.9 622.9,493.6 606.0,493.6" fill="#fff"/><text x="634.4" y="493.6" font-size="33" stroke="#fff" stroke-width="0.7">2</text>
<circle cx="839.1" cy="431.9" r="33.2" fill="#0b6337"/>
<polygon points="824.5,419.8 829.7,419.8 829.7,439.1 841.8,439.1 841.8,443.9 824.5,443.9" fill="#fff"/><polygon points="842.4,423.1 847.9,419.8 853.9,419.8 853.9,443.9 848.5,443.9 848.5,425.0 843.9,426.4" fill="#fff"/>
</g>
<rect x="100.9" y="682.4" width="47.2" height="47.4" fill="none" stroke="#000" stroke-width="2"/>
<text x="124.4" y="721" font-family="Liberation Sans, sans-serif" font-size="40" text-anchor="middle" fill="#000">A</text>
</svg>
</body></html>
